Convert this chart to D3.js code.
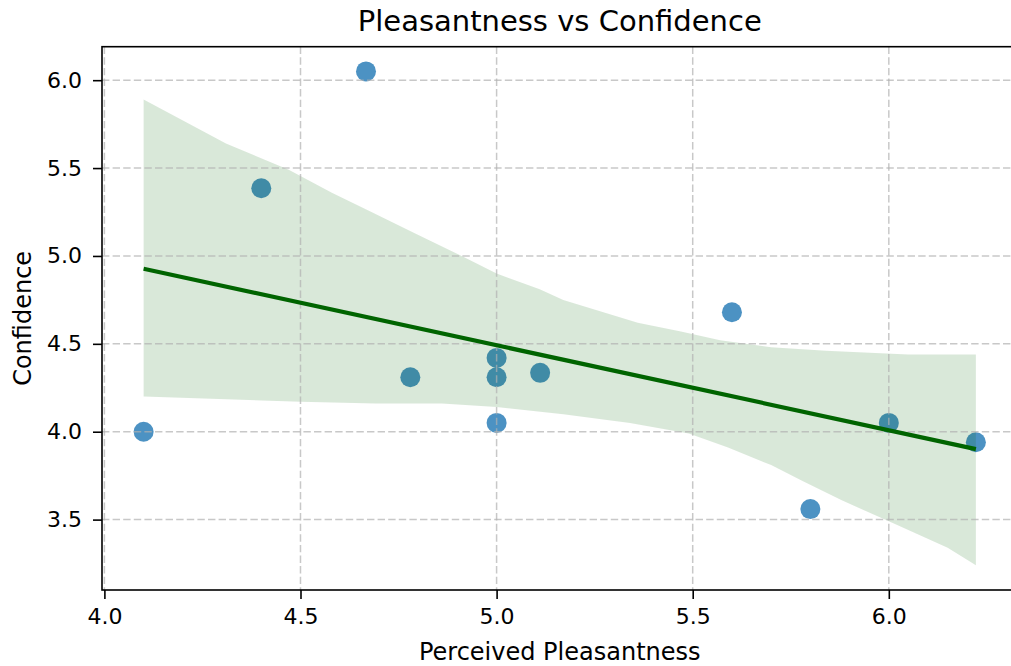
<!DOCTYPE html>
<html>
<head>
<meta charset="utf-8">
<script src="https://cdn.jsdelivr.net/npm/d3@7"></script>
<style>
  html, body { margin: 0; padding: 0; background: #fff; }
  svg { display: block; font-family: "DejaVu Sans", sans-serif; }
</style>
</head>
<body>
<svg id="chart" width="1011" height="666"></svg>
<script>
// Observations: perceived pleasantness vs confidence
const pleasantness = [4.10, 4.40, 4.667, 4.78, 5.00, 5.00, 5.00, 5.111, 5.60, 5.80, 6.00, 6.222];
const confidence   = [4.00, 5.385, 6.05, 4.31, 4.42, 4.31, 4.05, 4.335, 4.68, 3.56, 4.05, 3.94];

// 95% confidence band of the fit (upper and lower edges)
const bandUpperX = [4.10, 4.31, 4.47, 4.58, 4.69, 4.79, 4.92, 5.00, 5.11, 5.17, 5.36, 5.47, 5.57, 5.70, 5.84, 6.05, 6.222];
const bandUpperY = [5.89, 5.64, 5.49, 5.36, 5.24, 5.13, 4.99, 4.90, 4.81, 4.75, 4.62, 4.57, 4.52, 4.48, 4.46, 4.44, 4.44];
const bandLowerX = [4.10, 4.50, 4.69, 4.86, 5.00, 5.17, 5.34, 5.49, 5.59, 5.70, 5.78, 5.88, 6.01, 6.15, 6.222];
const bandLowerY = [4.20, 4.17, 4.16, 4.16, 4.14, 4.10, 4.05, 3.99, 3.91, 3.81, 3.72, 3.61, 3.48, 3.34, 3.24];

const xTicks = [4.0, 4.5, 5.0, 5.5, 6.0];
const yTicks = [3.5, 4.0, 4.5, 5.0, 5.5, 6.0];

const titleText = "Pleasantness vs Confidence";
const xLabelText = "Perceived Pleasantness";
const yLabelText = "Confidence";

// Layout
const plot = { left: 102, top: 46.7, right: 1017.5, bottom: 590 };

// Axis limits with 5% padding around everything drawn
function padded(lo, hi) { const m = (hi - lo) * 0.05; return [lo - m, hi + m]; }
const xExt = padded(d3.min(pleasantness), d3.max(pleasantness));
const yExt = padded(Math.min(d3.min(confidence), d3.min(bandLowerY)),
                    Math.max(d3.max(confidence), d3.max(bandUpperY)));

const x = d3.scaleLinear().domain(xExt).range([plot.left, plot.right]);
const y = d3.scaleLinear().domain(yExt).range([plot.bottom, plot.top]);

const svg = d3.select("#chart");

svg.append("defs").append("clipPath").attr("id", "plotClip")
  .append("rect")
  .attr("x", plot.left).attr("y", plot.top)
  .attr("width", plot.right - plot.left).attr("height", plot.bottom - plot.top);

const body = svg.append("g").attr("clip-path", "url(#plotClip)");

// Scatter points
body.append("g").selectAll("circle")
  .data(pleasantness.map((v, i) => [v, confidence[i]]))
  .join("circle")
  .attr("cx", d => x(d[0]))
  .attr("cy", d => y(d[1]))
  .attr("r", 10)
  .attr("fill", "#1f77b4")
  .attr("fill-opacity", 0.8);

// Confidence band
const bandPts = bandUpperX.map((v, i) => [v, bandUpperY[i]])
  .concat(bandLowerX.map((v, i) => [v, bandLowerY[i]]).reverse());
body.append("path")
  .attr("d", d3.line().x(d => x(d[0])).y(d => y(d[1]))(bandPts) + "Z")
  .attr("fill", "darkgreen")
  .attr("fill-opacity", 0.15)
  .attr("stroke", "none");

// Grid
const grid = body.append("g")
  .attr("stroke", "#b0b0b0")
  .attr("stroke-opacity", 0.7)
  .attr("stroke-width", 1.5)
  .attr("stroke-dasharray", "7.4,3.2");
grid.selectAll("line.gx").data(xTicks).join("line").attr("class", "gx")
  .attr("x1", d => x(d)).attr("x2", d => x(d))
  .attr("y1", plot.top).attr("y2", plot.bottom);
grid.selectAll("line.gy").data(yTicks).join("line").attr("class", "gy")
  .attr("x1", plot.left).attr("x2", plot.right)
  .attr("y1", d => y(d)).attr("y2", d => y(d));

// Least-squares fit line
const mx = d3.mean(pleasantness), my = d3.mean(confidence);
const sxy = d3.sum(pleasantness, (v, i) => (v - mx) * (confidence[i] - my));
const sxx = d3.sum(pleasantness, v => (v - mx) * (v - mx));
const slope = sxy / sxx, intercept = my - slope * mx;
const fitX = d3.extent(pleasantness);
body.append("path")
  .attr("d", d3.line().x(d => x(d)).y(d => y(intercept + slope * d))(fitX))
  .attr("fill", "none")
  .attr("stroke", "darkgreen")
  .attr("stroke-width", 4.2)
  .attr("stroke-linecap", "butt");

// Axes
const xAxis = svg.append("g")
  .attr("transform", `translate(0,${plot.bottom})`)
  .call(d3.axisBottom(x).tickValues(xTicks).tickFormat(d3.format(".1f"))
        .tickSizeInner(9).tickSizeOuter(0).tickPadding(9));
const yAxis = svg.append("g")
  .attr("transform", `translate(${plot.left},0)`)
  .call(d3.axisLeft(y).tickValues(yTicks).tickFormat(d3.format(".1f"))
        .tickSizeInner(9).tickSizeOuter(0).tickPadding(11));
[xAxis, yAxis].forEach(a => {
  a.select(".domain").remove();
  a.selectAll(".tick line").attr("stroke", "#000").attr("stroke-width", 1.6);
  a.selectAll(".tick text").attr("fill", "#000")
    .style("font-size", "22px").style("font-family", "DejaVu Sans, sans-serif");
});

// Frame
svg.append("rect")
  .attr("x", plot.left).attr("y", plot.top)
  .attr("width", plot.right - plot.left).attr("height", plot.bottom - plot.top)
  .attr("fill", "none").attr("stroke", "#000").attr("stroke-width", 1.6);

// Titles
svg.append("text")
  .attr("x", (plot.left + plot.right) / 2).attr("y", 31)
  .attr("text-anchor", "middle")
  .style("font-size", "29px").attr("fill", "#000")
  .text(titleText);
svg.append("text")
  .attr("x", (plot.left + plot.right) / 2).attr("y", 660)
  .attr("text-anchor", "middle")
  .style("font-size", "24px").attr("fill", "#000")
  .text(xLabelText);
svg.append("text")
  .attr("transform", `translate(31,${(plot.top + plot.bottom) / 2}) rotate(-90)`)
  .attr("text-anchor", "middle")
  .style("font-size", "24px").attr("fill", "#000")
  .text(yLabelText);
</script>
</body>
</html>
